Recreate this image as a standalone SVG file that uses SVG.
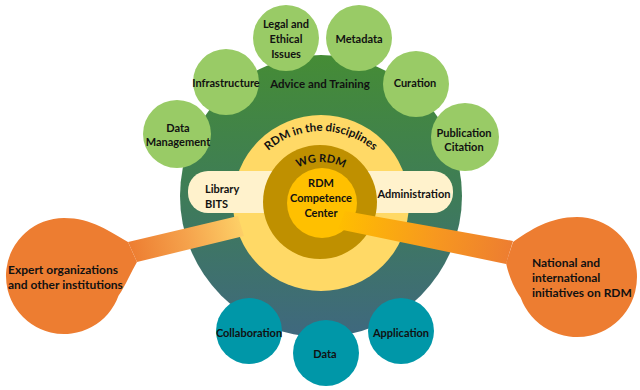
<svg xmlns="http://www.w3.org/2000/svg" width="640" height="390" viewBox="0 0 640 390">
<defs>
<linearGradient id="gOuter" x1="0" y1="0" x2="0" y2="1">
<stop offset="0" stop-color="#458c35"/>
<stop offset="0.5" stop-color="#3e7c58"/>
<stop offset="1" stop-color="#3f687f"/>
</linearGradient>
<linearGradient id="gLeft" gradientUnits="userSpaceOnUse" x1="130" y1="250" x2="242" y2="225">
<stop offset="0" stop-color="#ed7d31"/>
<stop offset="0.5" stop-color="#f5a24c"/>
<stop offset="1" stop-color="#fdd067"/>
</linearGradient>
<linearGradient id="gRight" gradientUnits="userSpaceOnUse" x1="340" y1="220" x2="512" y2="252">
<stop offset="0" stop-color="#ffbe00"/>
<stop offset="0.55" stop-color="#f7981f"/>
<stop offset="1" stop-color="#ed7d31"/>
</linearGradient>
<path id="arcDisc" d="M 241,211 A 80,80 0 0 1 401,211"/>
<path id="arcWG" d="M 273,210 A 48,48 0 0 1 369,210"/>
<style>
text{font-family:Lato,"Liberation Sans",sans-serif;font-weight:bold;fill:#111;}
.lbl{font-size:11px;text-anchor:middle;dominant-baseline:central;}
.big{font-size:12px;}
.lg{fill:#99cb66;}
.tl{fill:#0097a8;}
.or{fill:#ed7d31;}
</style>
</defs>
<rect width="640" height="390" fill="#fff"/>

<g id="advice-training">
<circle cx="321" cy="196" r="141" fill="url(#gOuter)"/>
<text class="lbl" x="320" y="83" style="font-size:11.5px">Advice and Training</text>
</g>

<g id="rdm-disciplines">
<circle cx="321" cy="203" r="88" fill="#ffd966"/>
<text style="font-size:11.5px" text-anchor="middle"><textPath href="#arcDisc" startOffset="50%">RDM in the disciplines</textPath></text>
</g>

<g id="library-administration">
<rect x="188" y="171" width="265" height="42" rx="20" fill="#fff2cc"/>
<text class="lbl" x="205" y="188" style="text-anchor:start">Library</text>
<text class="lbl" x="205" y="203" style="text-anchor:start">BITS</text>
<text class="lbl" x="414" y="193">Administration</text>
</g>

<g id="wg-rdm">
<circle cx="320" cy="202" r="57" fill="#bf9000"/>
<text style="font-size:11px" text-anchor="middle"><textPath href="#arcWG" startOffset="50%">WG RDM</textPath></text>
</g>

<g id="competence-center">
<circle cx="322" cy="203" r="35" fill="#ffc000"/>
<text class="lbl" x="321" y="182">RDM</text>
<text class="lbl" x="321" y="197">Competence</text>
<text class="lbl" x="321" y="212">Center</text>
</g>

<g id="topics">
<g id="legal"><circle class="lg" cx="286" cy="38" r="33"/>
<text class="lbl" x="286" y="23">Legal and</text><text class="lbl" x="286" y="38">Ethical</text><text class="lbl" x="286" y="53">Issues</text></g>
<g id="metadata"><circle class="lg" cx="359" cy="38" r="33"/><text class="lbl" x="359" y="38">Metadata</text></g>
<g id="infrastructure"><circle class="lg" cx="226" cy="82" r="33"/><text class="lbl" x="226" y="82">Infrastructure</text></g>
<g id="curation"><circle class="lg" cx="416" cy="84" r="33"/><text class="lbl" x="415" y="82">Curation</text></g>
<g id="data-management"><circle class="lg" cx="177" cy="134" r="34"/>
<text class="lbl" x="178" y="127">Data</text><text class="lbl" x="178" y="141">Management</text></g>
<g id="publication"><circle class="lg" cx="465" cy="137" r="34"/>
<text class="lbl" x="464" y="132">Publication</text><text class="lbl" x="464" y="146">Citation</text></g>
</g>

<g id="outputs">
<g id="collaboration"><circle class="tl" cx="249" cy="331" r="33"/><text class="lbl" x="249" y="332">Collaboration</text></g>
<g id="data"><circle class="tl" cx="326" cy="353" r="33"/><text class="lbl" x="325" y="353">Data</text></g>
<g id="application"><circle class="tl" cx="401" cy="331" r="33"/><text class="lbl" x="401" y="332">Application</text></g>
</g>

<g id="connectors">
<polygon points="128,242 238,216 244,236 137,262" fill="url(#gLeft)"/>
<polygon points="345,211 513,241 506,264 338,229" fill="url(#gRight)"/>
</g>

<g id="expert-organizations">
<path class="or" d="M 64,218 A 58,58 0 1 0 118.5,295.8 C 126,285 131,272 137,262 L 128,242 C 110,232 92,218 64,218 Z"/>
<text class="lbl big" x="8" y="269" style="text-anchor:start">Expert organizations</text>
<text class="lbl big" x="8" y="284" style="text-anchor:start">and other institutions</text>
</g>

<g id="national-initiatives">
<path class="or" d="M 577,217 A 60,60 0 1 1 520.6,297.5 C 512,285 508,272 506,263 L 513,242 C 530,230 550,217 577,217 Z"/>
<text class="lbl big" x="532" y="262" style="text-anchor:start">National and</text>
<text class="lbl big" x="532" y="277" style="text-anchor:start">international</text>
<text class="lbl big" x="532" y="292" style="text-anchor:start">initiatives on RDM</text>
</g>
</svg>
